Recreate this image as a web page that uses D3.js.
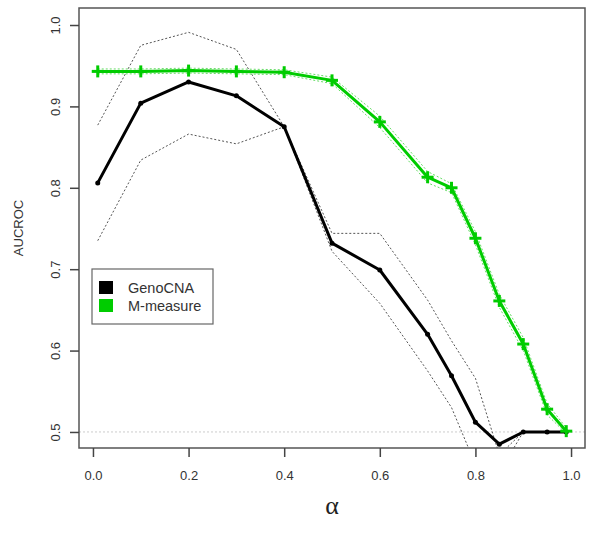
<!DOCTYPE html>
<html>
<head>
<meta charset="utf-8">
<script src="https://cdn.jsdelivr.net/npm/d3@7"></script>
<style>
  body { margin: 0; background: #fff; }
  svg text { font-family: "Liberation Sans", Arial, sans-serif; fill: #333; }
</style>
</head>
<body>
<div id="chart"></div>
<script>
const alpha = [0.01, 0.1, 0.2, 0.3, 0.4, 0.5, 0.6, 0.7, 0.75, 0.8, 0.85, 0.9, 0.95, 0.99]

const genoMean  = [0.806, 0.904, 0.930, 0.913, 0.875, 0.732, 0.699, 0.620, 0.569, 0.512, 0.485, 0.500, 0.500, 0.500]
const genoUpper = [0.877, 0.975, 0.991, 0.970, 0.875, 0.744, 0.744, 0.662, 0.612, 0.566, 0.472, 0.500, 0.500, 0.500]
const genoLower = [0.735, 0.834, 0.866, 0.854, 0.875, 0.722, 0.658, 0.575, 0.530, 0.460, 0.450, 0.500, 0.500, 0.500]

const mMean  = [0.943, 0.943, 0.944, 0.943, 0.942, 0.932, 0.881, 0.813, 0.800, 0.738, 0.661, 0.608, 0.528, 0.501]
const mUpper = [0.946, 0.946, 0.947, 0.946, 0.945, 0.936, 0.888, 0.820, 0.805, 0.746, 0.669, 0.616, 0.535, 0.505]
const mLower = [0.940, 0.940, 0.941, 0.940, 0.939, 0.928, 0.874, 0.806, 0.794, 0.730, 0.653, 0.600, 0.521, 0.498]

const xTicks = [0, 0.2, 0.4, 0.6, 0.8, 1.0]
const yTicks = [0.5, 0.6, 0.7, 0.8, 0.9, 1.0]
const legendLabels = ['GenoCNA', 'M-measure']
const colors = ['#000000', '#00cc00']

const width = 600, height = 534
const margin = {top: 8, right: 15, bottom: 86, left: 79}

const svg = d3.select('#chart').append('svg')
  .attr('width', width)
  .attr('height', height)

const x = d3.scaleLinear()
  .domain([-0.0292, 1.0292])
  .range([margin.left, width - margin.right])

const y = d3.scaleLinear()
  .domain([0.4803, 1.0209])
  .range([height - margin.bottom, margin.top])

svg.append('clipPath').attr('id', 'plotclip')
  .append('rect')
  .attr('x', margin.left).attr('y', margin.top)
  .attr('width', width - margin.left - margin.right)
  .attr('height', height - margin.top - margin.bottom)

const plot = svg.append('g').attr('clip-path', 'url(#plotclip)')

// reference line at 0.5
plot.append('line')
  .attr('x1', margin.left).attr('x2', width - margin.right)
  .attr('y1', y(0.5)).attr('y2', y(0.5))
  .attr('stroke', '#ccc')
  .attr('stroke-width', 1)
  .attr('stroke-dasharray', '2,2')

const line = d3.line()
  .x((d, i) => x(alpha[i]))
  .y(d => y(d))

// bands
;[genoUpper, genoLower].forEach(s => {
  plot.append('path')
    .datum(s)
    .attr('d', line)
    .attr('fill', 'none')
    .attr('stroke', '#555')
    .attr('stroke-width', 1)
    .attr('stroke-dasharray', '2,2')
})

;[mUpper, mLower].forEach(s => {
  plot.append('path')
    .datum(s)
    .attr('d', line)
    .attr('fill', 'none')
    .attr('stroke', '#66dd66')
    .attr('stroke-width', 1)
    .attr('stroke-dasharray', '2,2')
})

// GenoCNA
plot.append('path')
  .datum(genoMean)
  .attr('d', line)
  .attr('fill', 'none')
  .attr('stroke', colors[0])
  .attr('stroke-width', 3)
  .attr('stroke-linejoin', 'round')

plot.append('g')
  .selectAll('circle')
  .data(genoMean)
  .enter()
  .append('circle')
  .attr('cx', (d, i) => x(alpha[i]))
  .attr('cy', d => y(d))
  .attr('r', 2.5)
  .style('fill', colors[0])

// M-measure
plot.append('path')
  .datum(mMean)
  .attr('d', line)
  .attr('fill', 'none')
  .attr('stroke', colors[1])
  .attr('stroke-width', 3)
  .attr('stroke-linejoin', 'round')

const plus = plot.append('g')
  .selectAll('g')
  .data(mMean)
  .enter()
  .append('g')
  .attr('transform', (d, i) => 'translate(' + x(alpha[i]) + ',' + y(d) + ')')

plus.append('line').attr('x1', -6).attr('x2', 6).attr('y1', 0).attr('y2', 0)
  .attr('stroke', colors[1]).attr('stroke-width', 3)
plus.append('line').attr('x1', 0).attr('x2', 0).attr('y1', -6).attr('y2', 6)
  .attr('stroke', colors[1]).attr('stroke-width', 3)

// frame
svg.append('rect')
  .attr('x', margin.left).attr('y', margin.top)
  .attr('width', width - margin.left - margin.right)
  .attr('height', height - margin.top - margin.bottom)
  .attr('fill', 'none')
  .attr('stroke', '#555')
  .attr('stroke-width', 1.5)

// axes
const xAxis = svg.append('g')
  .attr('transform', 'translate(0,' + (height - margin.bottom) + ')')
  .call(d3.axisBottom(x).tickValues(xTicks).tickSize(9).tickPadding(14).tickFormat(d3.format('.1f')))

const yAxis = svg.append('g')
  .attr('transform', 'translate(' + margin.left + ',0)')
  .call(d3.axisLeft(y).tickValues(yTicks).tickSize(9).tickFormat(d3.format('.1f')))

svg.selectAll('.domain').remove()
svg.selectAll('.tick line').attr('stroke', '#444').attr('stroke-width', 1.5)
svg.selectAll('.tick text').style('font-size', '13px').style('fill', '#333')

yAxis.selectAll('.tick text')
  .attr('x', 0)
  .attr('dy', 0)
  .attr('transform', 'translate(-24,0) rotate(-90)')
  .attr('text-anchor', 'middle')
  .attr('dominant-baseline', 'central')

// axis titles
svg.append('text')
  .attr('x', (margin.left + width - margin.right) / 2)
  .attr('y', 514)
  .attr('text-anchor', 'middle')
  .style('font-family', '"Liberation Serif", "DejaVu Serif", serif')
  .style('font-size', '26px')
  .style('fill', '#222')
  .text('α')

svg.append('text')
  .attr('transform', 'translate(18,' + ((margin.top + height - margin.bottom) / 2) + ') rotate(-90)')
  .attr('text-anchor', 'middle')
  .attr('dominant-baseline', 'central')
  .style('font-size', '13px')
  .text('AUCROC')

// legend
const legend = svg.append('g').attr('transform', 'translate(92,269)')

legend.append('rect')
  .attr('width', 121).attr('height', 55)
  .attr('fill', '#fff')
  .attr('stroke', '#666')
  .attr('stroke-width', 1.2)

legendLabels.forEach((lab, i) => {
  legend.append('rect')
    .attr('x', 7).attr('y', 12 + i * 18)
    .attr('width', 14).attr('height', 13)
    .attr('fill', colors[i])
  legend.append('text')
    .attr('x', 36).attr('y', 19 + i * 18)
    .attr('dominant-baseline', 'central')
    .style('font-size', '14.5px')
    .text(lab)
})
</script>
</body>
</html>
